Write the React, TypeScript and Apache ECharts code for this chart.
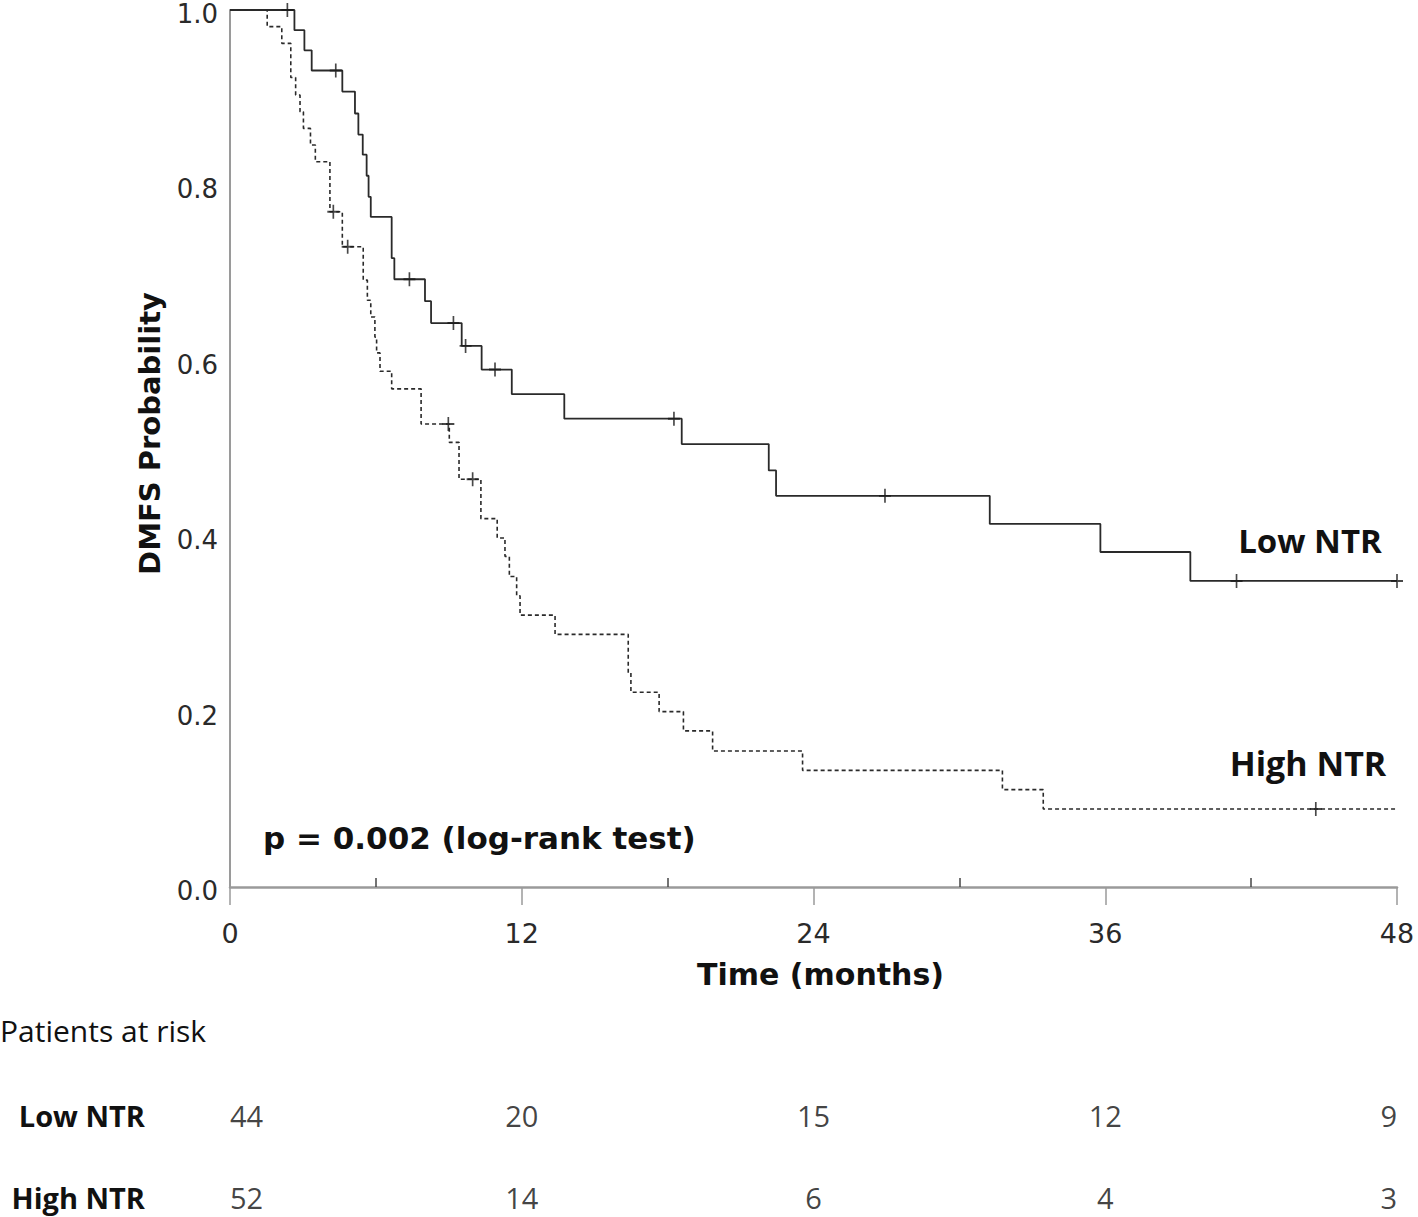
import React, { useEffect, useRef } from "react";
import * as echarts from "echarts";

// Kaplan-Meier step data (time in months, survival probability)
const lowTimes = [0, 2.65, 3.06, 3.36, 4.62, 5.14, 5.28, 5.46, 5.62, 5.7, 5.79, 6.65, 6.76, 8.02, 8.27, 9.53, 10.35, 11.59, 13.75, 18.58, 22.16, 22.46, 31.25, 35.8, 39.5, 48];
const lowSurv = [1, 0.977, 0.954, 0.931, 0.907, 0.882, 0.858, 0.835, 0.811, 0.787, 0.764, 0.717, 0.693, 0.668, 0.643, 0.617, 0.59, 0.562, 0.534, 0.505, 0.475, 0.446, 0.414, 0.382, 0.349, 0.349];
const lowCensorTimes = [2.36, 4.35, 7.38, 9.19, 9.69, 10.9, 18.26, 26.94, 41.4, 48];

const highTimes = [0, 1.53, 2.13, 2.5, 2.7, 2.88, 3.02, 3.31, 3.51, 4.11, 4.62, 5.48, 5.65, 5.79, 5.96, 6.03, 6.17, 6.65, 7.86, 9.02, 9.42, 10.32, 10.99, 11.31, 11.49, 11.79, 11.93, 13.37, 16.38, 16.49, 17.65, 18.65, 19.85, 23.55, 31.77, 33.45, 48];
const highSurv = [1, 0.981, 0.962, 0.923, 0.903, 0.884, 0.865, 0.846, 0.827, 0.77, 0.73, 0.692, 0.669, 0.65, 0.627, 0.609, 0.588, 0.568, 0.528, 0.507, 0.465, 0.42, 0.398, 0.377, 0.354, 0.332, 0.31, 0.288, 0.244, 0.222, 0.2, 0.178, 0.155, 0.133, 0.111, 0.089, 0.089];
const highCensorTimes = [4.25, 4.84, 8.98, 9.98, 44.66];

// Axis ticks
const majorTicks = [0, 12, 24, 36, 48];
const minorTicks = [6, 18, 30, 42];

// Patients at risk
const riskRows = ["Low NTR", "High NTR"];
const riskTimes = [0, 12, 24, 36, 48];
const lowAtRisk = [44, 20, 15, 12, 9];
const highAtRisk = [52, 14, 6, 4, 3];

function survAt(times: number[], surv: number[], t: number) {
  let s = surv[0];
  for (let i = 0; i < times.length; i++) if (times[i] <= t) s = surv[i];
  return s;
}

const plusPath = "path://M5,0L5,10M0,5L10,5";
const sans = "DejaVu Sans";
const open = "Open Sans";

export default function App() {
  const ref = useRef<HTMLDivElement>(null);
  useEffect(() => {
    document.body.style.margin = "0";
    const chart = echarts.init(ref.current!, null, { renderer: "svg" });

    const riskData: any[] = [];
    [lowAtRisk, highAtRisk].forEach((arr, row) => {
      arr.forEach((n, i) => {
        riskData.push({
          value: [riskTimes[i], row, n],
          label: { align: i === 0 ? "left" : i === arr.length - 1 ? "right" : "center" },
        });
      });
    });

    const option: any = {
      animation: false,
      backgroundColor: "#ffffff",
      grid: [
        { left: 230, right: 21, top: 10, height: 877 },
        { left: 230, right: 21, top: 1115, height: 82 },
      ],
      xAxis: [
        {
          gridIndex: 0,
          type: "value",
          min: 0,
          max: 48,
          interval: 12,
          axisLine: { show: true, lineStyle: { color: "#9a9a9a", width: 2.5 } },
          axisTick: { show: true, length: 18, lineStyle: { color: "#9a9a9a", width: 1.5 } },
          axisLabel: { margin: 33, fontSize: 27, color: "#2a2a2a", fontFamily: sans, customValues: majorTicks },
          splitLine: { show: false },
          name: "Time (months)",
          nameLocation: "middle",
          nameGap: 72,
          nameTextStyle: { fontSize: 30, fontWeight: "bold", color: "#111", fontFamily: sans, padding: [0, 0, 0, 14] },
        },
        {
          gridIndex: 0,
          type: "value",
          min: 0,
          max: 48,
          position: "bottom",
          axisLine: { show: false },
          axisTick: { show: true, inside: true, length: 9, customValues: minorTicks, lineStyle: { color: "#444", width: 1.5 } },
          axisLabel: { show: false },
          splitLine: { show: false },
        },
        { gridIndex: 1, type: "value", min: 0, max: 48, show: false },
      ],
      yAxis: [
        {
          gridIndex: 0,
          type: "value",
          min: 0,
          max: 1,
          interval: 0.2,
          axisLine: { show: true, lineStyle: { color: "#9a9a9a", width: 2 } },
          axisTick: { show: false },
          axisLabel: {
            margin: 12,
            fontSize: 26,
            lineHeight: 8,
            verticalAlign: "top",
            color: "#2a2a2a",
            fontFamily: sans,
            formatter: (v: number) => v.toFixed(1),
          },
          splitLine: { show: false },
          name: "DMFS Probability",
          nameLocation: "middle",
          nameGap: 66,
          nameTextStyle: { fontSize: 29, fontWeight: "bold", color: "#111", fontFamily: sans, padding: [0, 0, 0, 30] },
        },
        {
          gridIndex: 1,
          type: "category",
          data: riskRows,
          inverse: true,
          boundaryGap: false,
          axisLine: { show: false },
          axisTick: { show: false },
          axisLabel: { margin: 85, fontSize: 29, fontWeight: "bold", color: "#111", fontFamily: open },
          splitLine: { show: false },
        },
      ],
      series: [
        {
          type: "line",
          step: "end",
          xAxisIndex: 0,
          yAxisIndex: 0,
          symbol: "none",
          data: lowTimes.map((t, i) => [t, lowSurv[i]]),
          lineStyle: { color: "#2a2a2a", width: 1.8, type: "solid" },
        },
        {
          type: "line",
          step: "end",
          xAxisIndex: 0,
          yAxisIndex: 0,
          symbol: "none",
          data: highTimes.map((t, i) => [t, highSurv[i]]),
          lineStyle: { color: "#2a2a2a", width: 1.6, type: [4, 3] },
        },
        {
          type: "scatter",
          xAxisIndex: 0,
          yAxisIndex: 0,
          symbol: plusPath,
          symbolSize: [12, 14],
          itemStyle: { color: "none", borderColor: "#1a1a1a", borderWidth: 1.8 },
          data: lowCensorTimes.map((t) => [t, survAt(lowTimes, lowSurv, t)]),
          z: 5,
        },
        {
          type: "scatter",
          xAxisIndex: 0,
          yAxisIndex: 0,
          symbol: plusPath,
          symbolSize: [12, 14],
          itemStyle: { color: "none", borderColor: "#1a1a1a", borderWidth: 1.8 },
          data: highCensorTimes.map((t) => [t, survAt(highTimes, highSurv, t)]),
          z: 5,
        },
        {
          type: "scatter",
          xAxisIndex: 2,
          yAxisIndex: 1,
          symbolSize: 1,
          itemStyle: { color: "transparent" },
          data: riskData,
          label: {
            show: true,
            position: "inside",
            verticalAlign: "middle",
            formatter: (p: any) => String(p.value[2]),
            fontSize: 29,
            color: "#111",
            fontFamily: open,
          },
        },
      ],
      graphic: [
        {
          type: "text",
          x: 1310,
          y: 540,
          style: { text: "Low NTR", textAlign: "center", textVerticalAlign: "middle", fontSize: 33, fontWeight: "bold", fill: "#111", fontFamily: open },
        },
        {
          type: "text",
          x: 1308,
          y: 763,
          style: { text: "High NTR", textAlign: "center", textVerticalAlign: "middle", fontSize: 34, fontWeight: "bold", fill: "#111", fontFamily: open },
        },
        {
          type: "text",
          x: 263,
          y: 838,
          style: { text: "p = 0.002 (log-rank test)", textAlign: "left", textVerticalAlign: "middle", fontSize: 31, fontWeight: "bold", fill: "#111", fontFamily: sans },
        },
        {
          type: "text",
          x: 0,
          y: 1030,
          style: { text: "Patients at risk", textAlign: "left", textVerticalAlign: "middle", fontSize: 30, fill: "#111", fontFamily: open },
        },
      ],
    };
    chart.setOption(option);
    return () => chart.dispose();
  }, []);
  return <div ref={ref} style={{ width: 1418, height: 1217 }} />;
}
